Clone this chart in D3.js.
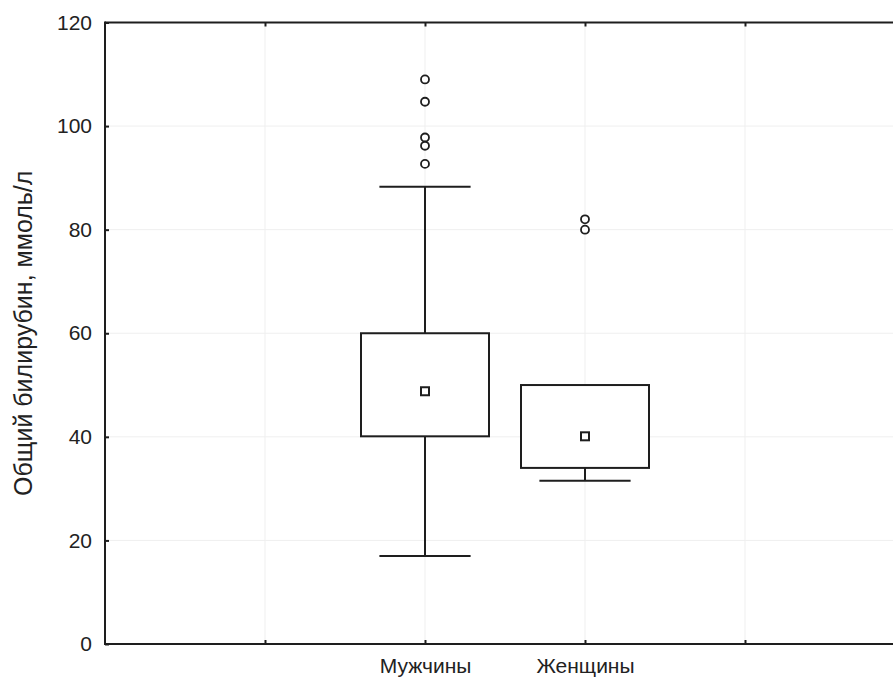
<!DOCTYPE html>
<html>
<head>
<meta charset="utf-8">
<script src="https://cdn.jsdelivr.net/npm/d3@7"></script>
<style>
  body { margin: 0; background: #fff; overflow: hidden; }
  svg { display: block; font-family: "Liberation Sans", Arial, sans-serif; }
</style>
</head>
<body>
<svg id="chart" width="893" height="679"></svg>
<script>
// box plot data
const categories = ["Мужчины", "Женщины"];
const medians = [48.8, 40.1];
const q1 = [40.1, 34.0];
const q3 = [60.0, 50.0];
const whiskerLow = [17.0, 31.5];
const whiskerHigh = [88.3, 50.0];
const outliers = [
  [109.0, 104.7, 97.8, 96.2, 92.7],
  [82.0, 80.0],
];
const yTicks = [0, 20, 40, 60, 80, 100, 120];
const yLabel = "Общий билирубин, ммоль/л";

const svg = d3.select("#chart");
const margin = { left: 105, top: 22.5, bottom: 35 };
const height = +svg.attr("height");

// x slots: 0..5, categories sit in slots 2 and 3
const xScale = d3.scaleLinear().domain([0, 5]).range([margin.left, margin.left + 800]);
const yScale = d3.scaleLinear().domain([0, 120]).range([height - margin.bottom, margin.top]);
const slot = (i) => i + 2;
const xTicks = [1, 2, 3, 4];
const xTickLabel = (t) => (categories[t - 2] !== undefined ? categories[t - 2] : "");

const ink = "#1e1e1e";
const boxHalf = (xScale(1) - xScale(0)) * 0.4;
const capHalf = (xScale(1) - xScale(0)) * 0.285;

// faint grid
const grid = svg.append("g").attr("stroke", "#efefef").attr("stroke-width", 1);
grid.selectAll(".gy").data(yTicks.slice(1, -1)).enter().append("line")
  .attr("x1", xScale(0)).attr("x2", xScale(5))
  .attr("y1", (d) => yScale(d)).attr("y2", (d) => yScale(d));
grid.selectAll(".gx").data(xTicks).enter().append("line")
  .attr("x1", (d) => xScale(d)).attr("x2", (d) => xScale(d))
  .attr("y1", yScale(0)).attr("y2", yScale(120));

// axes with inward ticks
const axisStyle = (g) => {
  g.select(".domain").remove();
  g.selectAll(".tick line").attr("stroke", ink).attr("stroke-width", 2);
  g.selectAll("text").attr("fill", "#222").style("font-size", "21px");
};
svg.append("g").attr("transform", `translate(${xScale(0)},0)`)
  .call(d3.axisLeft(yScale).tickValues(yTicks).tickSize(-4).tickPadding(13))
  .call(axisStyle);
svg.append("g").attr("transform", `translate(0,${yScale(0)})`)
  .call(d3.axisBottom(xScale).tickValues(xTicks).tickFormat(xTickLabel).tickSize(-4).tickPadding(14))
  .call(axisStyle);
svg.append("g").attr("transform", `translate(0,${yScale(120)})`)
  .call(d3.axisTop(xScale).tickValues(xTicks).tickFormat("").tickSize(-4))
  .call(axisStyle);

// frame: left, top and bottom (right side falls outside the picture)
const frame = svg.append("g").attr("stroke", ink).attr("stroke-width", 2);
frame.append("line").attr("x1", xScale(0)).attr("x2", xScale(0)).attr("y1", yScale(0) + 1).attr("y2", yScale(120) - 1);
frame.append("line").attr("x1", xScale(0)).attr("x2", xScale(5)).attr("y1", yScale(120)).attr("y2", yScale(120));
frame.append("line").attr("x1", xScale(0)).attr("x2", xScale(5)).attr("y1", yScale(0)).attr("y2", yScale(0));

// boxes
const boxes = svg.selectAll(".box").data(categories).enter().append("g")
  .attr("class", "box").attr("stroke", ink).attr("stroke-width", 2).attr("fill", "none");

boxes.each(function (d, i) {
  const g = d3.select(this);
  const cx = xScale(slot(i));
  if (whiskerHigh[i] > q3[i]) {
    g.append("line").attr("x1", cx).attr("x2", cx).attr("y1", yScale(q3[i])).attr("y2", yScale(whiskerHigh[i]));
    g.append("line").attr("x1", cx - capHalf).attr("x2", cx + capHalf)
      .attr("y1", yScale(whiskerHigh[i])).attr("y2", yScale(whiskerHigh[i]));
  }
  if (whiskerLow[i] < q1[i]) {
    g.append("line").attr("x1", cx).attr("x2", cx).attr("y1", yScale(q1[i])).attr("y2", yScale(whiskerLow[i]));
    g.append("line").attr("x1", cx - capHalf).attr("x2", cx + capHalf)
      .attr("y1", yScale(whiskerLow[i])).attr("y2", yScale(whiskerLow[i]));
  }
  g.append("rect")
    .attr("x", cx - boxHalf).attr("y", yScale(q3[i]))
    .attr("width", boxHalf * 2).attr("height", yScale(q1[i]) - yScale(q3[i]))
    .attr("fill", "#fff");
  g.append("rect")
    .attr("x", cx - 4).attr("y", yScale(medians[i]) - 4)
    .attr("width", 8).attr("height", 8).attr("fill", "#fff");
  g.selectAll(".out").data(outliers[i]).enter().append("circle")
    .attr("cx", cx).attr("cy", (v) => yScale(v)).attr("r", 4)
    .attr("fill", "#fff").attr("stroke-width", 1.8);
});

// y axis title
svg.append("text")
  .attr("transform", `translate(32,${(yScale(0) + yScale(120)) / 2}) rotate(-90)`)
  .attr("text-anchor", "middle")
  .attr("fill", "#222")
  .style("font-size", "25px")
  .text(yLabel);
</script>
</body>
</html>
